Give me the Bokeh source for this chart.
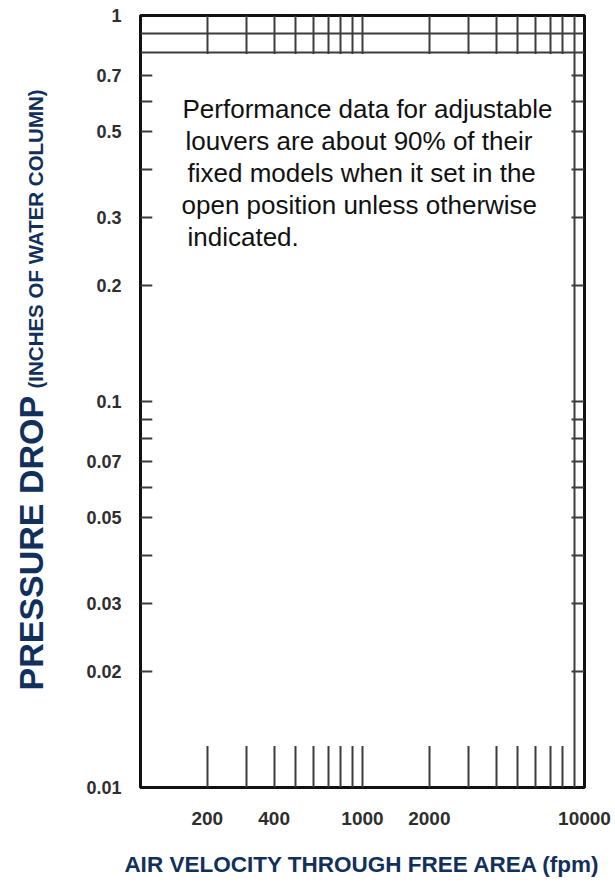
import math
from bokeh.plotting import figure
from bokeh.layouts import row
from bokeh.models import Range1d, FixedTicker, Label, BoxAnnotation
from bokeh.core.properties import value
from bokeh.embed import file_html
from bokeh.resources import INLINE

# ---- data ----
X_RANGE = (100, 10000)
Y_RANGE = (0.01, 1)
X_TICKS = [200, 400, 1000, 2000, 10000]
X_TICK_LABELS = ["200", "400", "1000", "2000", "10000"]
Y_TICKS = [0.01, 0.02, 0.03, 0.05, 0.07, 0.1, 0.2, 0.3, 0.5, 0.7, 1]
Y_TICK_LABELS = ["0.01", "0.02", "0.03", "0.05", "0.07", "0.1", "0.2", "0.3", "0.5", "0.7", "1"]
X_GRID = [200, 300, 400, 500, 600, 700, 800, 900,
          1000, 2000, 3000, 4000, 5000, 6000, 7000, 8000, 9000]
Y_GRID = [0.02, 0.03, 0.04, 0.05, 0.06, 0.07, 0.08, 0.09,
          0.1, 0.2, 0.3, 0.4, 0.5, 0.6, 0.7, 0.8, 0.9]
NOTE_LINES = [
    "Performance data for adjustable",
    "louvers are about 90% of their",
    "fixed models when it set in the",
    "open position unless otherwise",
    "indicated.",
]
X_TITLE = "AIR VELOCITY THROUGH FREE AREA (fpm)"
Y_TITLE_MAIN = "PRESSURE DROP"
Y_TITLE_SUB = "(INCHES OF WATER COLUMN)"

NAVY = "#12305c"
W, H = 615, 892
TW = 70            # width of the y-title strip
B_TOP, B_BOTTOM = 15, 105
FRAME_H = H - B_TOP - B_BOTTOM

# ---- y-title strip ----
tf = figure(width=TW, height=H, x_range=Range1d(0, TW), y_range=Range1d(0, FRAME_H),
            output_backend="svg", toolbar_location=None, title=None,
            x_axis_location=None, y_axis_location=None,
            min_border_left=0, min_border_right=0,
            min_border_top=B_TOP, min_border_bottom=B_BOTTOM)
tf.grid.visible = False
tf.outline_line_color = None
tf.background_fill_color = "white"
tf.border_fill_color = "white"
tf.text(x=[30], y=[97], text=[Y_TITLE_MAIN], angle=math.pi / 2,
        text_font=value("Liberation Sans"), text_font_style="bold",
        text_font_size="34px", text_color=NAVY,
        text_align="left", text_baseline="alphabetic")
tf.text(x=[35], y=[399], text=[Y_TITLE_SUB], angle=math.pi / 2,
        text_font=value("Liberation Sans"), text_font_style="bold",
        text_font_size="20.5px", text_color=NAVY,
        text_align="left", text_baseline="alphabetic")

# ---- main chart ----
p = figure(width=W - TW, height=H, x_axis_type="log", y_axis_type="log",
           x_range=Range1d(*X_RANGE), y_range=Range1d(*Y_RANGE),
           output_backend="svg", toolbar_location=None, title=None,
           min_border_left=140 - TW, min_border_right=W - 584,
           min_border_top=B_TOP, min_border_bottom=B_BOTTOM)
p.background_fill_color = "white"
p.border_fill_color = "white"
p.outline_line_color = "#111111"
p.outline_line_width = 3

p.xgrid.ticker = FixedTicker(ticks=X_GRID)
p.ygrid.ticker = FixedTicker(ticks=Y_GRID)
for g in (p.xgrid, p.ygrid):
    g.grid_line_color = "#3c3c3c"
    g.grid_line_width = 2
    g.minor_grid_line_color = None

p.xaxis.ticker = FixedTicker(ticks=X_TICKS)
p.xaxis.major_label_overrides = dict(zip(X_TICKS, X_TICK_LABELS))
p.yaxis.ticker = FixedTicker(ticks=Y_TICKS)
p.yaxis.major_label_overrides = dict(zip(Y_TICKS, Y_TICK_LABELS))
for ax in (p.xaxis, p.yaxis):
    ax.axis_line_color = None
    ax.major_tick_line_color = None
    ax.minor_tick_line_color = None
    ax.major_tick_out = 0
    ax.minor_tick_out = 0
    ax.major_tick_in = 0
    ax.minor_tick_in = 0
    ax.major_label_text_font = "Liberation Sans"
    ax.major_label_text_font_style = "bold"
    ax.major_label_text_color = "#2e2e2e"
p.xaxis.major_label_text_font_size = "19px"
p.yaxis.major_label_text_font_size = "18px"
p.xaxis.major_label_standoff = 24
p.yaxis.major_label_standoff = 19

p.xaxis.axis_label = X_TITLE
p.xaxis.axis_label_text_font = "Liberation Sans"
p.xaxis.axis_label_text_font_style = "bold"
p.xaxis.axis_label_text_font_size = "22.5px"
p.xaxis.axis_label_text_color = NAVY
p.xaxis.axis_label_standoff = 24

# white note box covering the grid interior
p.add_layout(BoxAnnotation(left=113, right=8740, bottom=0.0128, top=0.795,
                           fill_color="white", fill_alpha=1.0, line_color=None))

note_x = [42, 45, 47, 41, 47]
note_y0 = 679
for i, line in enumerate(NOTE_LINES):
    p.add_layout(Label(x=note_x[i], y=note_y0 - 32 * i, x_units="screen", y_units="screen",
                       text=line, text_font="Liberation Sans", text_font_size="26px",
                       text_color="#111111", text_align="left", text_baseline="alphabetic"))

layout = row(tf, p, spacing=0)
open("out.html", "w").write(file_html(layout, INLINE))
